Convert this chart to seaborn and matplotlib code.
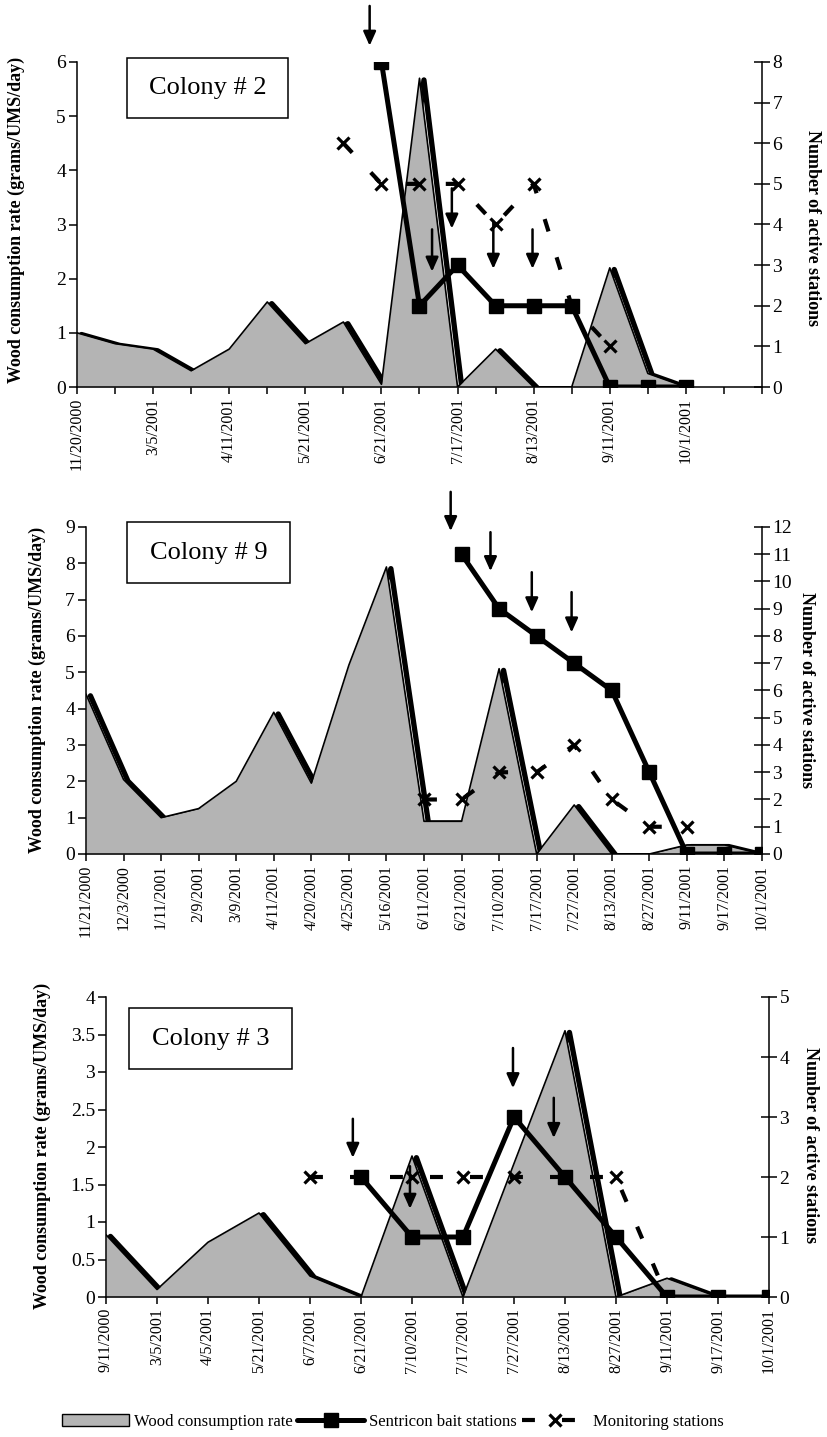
import numpy as np
import pandas as pd
import matplotlib
matplotlib.use('Agg')
import matplotlib.pyplot as plt
import seaborn as sns
from matplotlib.patches import Rectangle, Patch
from matplotlib.lines import Line2D
from matplotlib.transforms import offset_copy

nan = np.nan

# ---------------- Data ----------------
# Colony 2 (19 category slots, labels on every other slot)
c2_dates = ['11/20/2000', '', '3/5/2001', '', '4/11/2001', '', '5/21/2001', '',
            '6/21/2001', '', '7/17/2001', '', '8/13/2001', '', '9/11/2001', '',
            '10/1/2001', '', '']
c2_wood = [1.0, 0.8, 0.7, 0.3, 0.7, 1.57, 0.8, 1.2, 0.05, 5.7, 0.0, 0.7, 0.0,
           0.0, 2.2, 0.25, 0.0, nan, nan]
c2_bait = [nan, nan, nan, nan, nan, nan, nan, nan, 8, 2, 3, 2, 2, 2, 0, 0, 0,
           nan, nan]
c2_mon = [nan, nan, nan, nan, nan, nan, nan, 6, 5, 5, 5, 4, 5, 2, 1, nan, nan,
          nan, nan]
c2_arrows = [(7.69, 9.38, 8.40), (9.85, 4.89, 3.90), (9.33, 3.88, 2.84),
             (10.94, 4.07, 2.91), (11.97, 3.88, 2.91)]

# Colony 9
c9_dates = ['11/21/2000', '12/3/2000', '1/11/2001', '2/9/2001', '3/9/2001',
            '4/11/2001', '4/20/2001', '4/25/2001', '5/16/2001', '6/11/2001',
            '6/21/2001', '7/10/2001', '7/17/2001', '7/27/2001', '8/13/2001',
            '8/27/2001', '9/11/2001', '9/17/2001', '10/1/2001']
c9_wood = [4.4, 2.05, 1.0, 1.25, 2.0, 3.9, 1.95, 5.2, 7.9, 0.9, 0.9, 5.1, 0.0,
           1.35, 0.0, 0.0, 0.25, 0.25, 0.0]
c9_bait = [nan, nan, nan, nan, nan, nan, nan, nan, nan, nan, 11, 9, 8, 7, 6, 3,
           0, 0, 0]
c9_mon = [nan, nan, nan, nan, nan, nan, nan, nan, nan, 2, 2, 3, 3, 4, 2, 1, 1,
          nan, nan]
c9_arrows = [(9.71, 13.29, 11.85), (10.77, 11.81, 10.38), (11.87, 10.34, 8.87),
             (12.93, 9.61, 8.13)]

# Colony 3
c3_dates = ['9/11/2000', '3/5/2001', '4/5/2001', '5/21/2001', '6/7/2001',
            '6/21/2001', '7/10/2001', '7/17/2001', '7/27/2001', '8/13/2001',
            '8/27/2001', '9/11/2001', '9/17/2001', '10/1/2001']
c3_wood = [0.83, 0.1, 0.73, 1.12, 0.28, 0.0, 1.88, 0.0, 1.78, 3.55, 0.0, 0.25,
           0.0, 0.0]
c3_bait = [nan, nan, nan, nan, nan, 2, 1, 1, 3, 2, 1, 0, 0, 0]
c3_mon = [nan, nan, nan, nan, 2, 2, 2, 2, 2, 2, 2, 0, nan, nan]
c3_arrows = [(4.84, 2.97, 2.32), (5.96, 2.18, 1.47), (7.98, 4.15, 3.48),
             (8.78, 3.32, 2.65)]

left_label = 'Wood consumption rate (grams/UMS/day)'
right_label = 'Number of active stations'
legend_labels = ['Wood consumption rate', 'Sentricon bait stations',
                 'Monitoring stations']

# ---------------- Style ----------------
sns.set_theme(style='ticks')
plt.rcParams['font.family'] = ['Liberation Serif', 'DejaVu Serif']
plt.rcParams['axes.edgecolor'] = 'black'
plt.rcParams['axes.linewidth'] = 1.1
plt.rcParams['xtick.color'] = 'black'
plt.rcParams['ytick.color'] = 'black'
plt.rcParams['text.color'] = 'black'

W, H = 827, 1437
fig = plt.figure(figsize=(W / 100, H / 100), dpi=100)
GRAY = '#b4b4b4'


def fx(px):
    return px / W


def fy(py):
    return 1 - py / H


def rect(l, r, t, b):
    return [fx(l), fy(b), (r - l) / W, (b - t) / H]


def panel(box, dates, wood, bait, mon, lmax, lticks, lticklabels, rmax,
          arrows, title, tbox, llab_xy, rlab_xy):
    ax = fig.add_axes(rect(*box))
    x = np.arange(len(dates))
    df = pd.DataFrame({'x': x, 'wood': np.asarray(wood, float),
                       'bait': np.asarray(bait, float),
                       'mon': np.asarray(mon, float)})
    # area
    ax.fill_between(df['x'], 0, df['wood'], color=GRAY, lw=0, zorder=2)
    # shadow of outline
    sns.lineplot(data=df, x='x', y='wood', color='black', lw=3.8, ax=ax,
                 estimator=None, sort=False, zorder=1.5)
    ax.lines[-1].set_transform(offset_copy(ax.transData, fig=fig, x=3.2,
                                           y=-1.2, units='points'))
    sns.lineplot(data=df, x='x', y='wood', color='black', lw=1.2, ax=ax,
                 estimator=None, sort=False, zorder=3)
    ax.set_xlim(0, len(dates) - 1)
    ax.set_ylim(0, lmax)
    ax.set_yticks(lticks)
    ax.set_yticklabels(lticklabels)
    ax.set_xticks(x)
    ax.set_xticklabels(dates)
    ax.set_xlabel('')
    ax.set_ylabel('')
    ax.spines['top'].set_visible(False)
    ax.spines['right'].set_visible(False)
    ax.tick_params(axis='y', direction='out', length=6, width=1.1,
                   labelsize=14, pad=2, left=True)
    ax.tick_params(axis='x', direction='out', length=5, width=1.1,
                   labelsize=11.5, rotation=90, pad=3, bottom=True)

    ax2 = ax.twinx()
    sns.lineplot(data=df, x='x', y='bait', color='black', lw=3.6, marker='s',
                 markersize=10, markeredgecolor='black', markeredgewidth=1,
                 ax=ax2, estimator=None, sort=False)
    sns.lineplot(data=df, x='x', y='mon', color='black', lw=3.0, marker='x',
                 markersize=9, markeredgecolor='black', markeredgewidth=2.3,
                 linestyle=(0, (3.1, 6.5)), ax=ax2, estimator=None, sort=False)
    ax2.set_ylim(0, rmax)
    ax2.set_yticks(range(rmax + 1))
    ax2.set_ylabel('')
    ax2.set_xlim(0, len(dates) - 1)
    for s in ['top', 'left', 'bottom']:
        ax2.spines[s].set_visible(False)
    ax2.tick_params(axis='y', direction='inout', length=11, width=1.1,
                    labelsize=14, pad=2, right=True)

    for (xa, y0, y1) in arrows:
        ax2.annotate('', xy=(xa, y1), xytext=(xa, y0),
                     arrowprops=dict(arrowstyle='-|>,head_length=0.85,head_width=0.38',
                                     lw=1.8, color='black', shrinkA=0, shrinkB=0,
                                     mutation_scale=10, clip_on=False),
                     annotation_clip=False)

    # colony label box
    bx, by, bw, bh = tbox
    ax.add_patch(Rectangle((bx, by), bw, bh, transform=ax.transAxes,
                           facecolor='white', edgecolor='black', lw=1.1,
                           clip_on=False, zorder=6))
    ax.text(bx + bw / 2, by + bh / 2, title, transform=ax.transAxes,
            ha='center', va='center', fontsize=19, zorder=7)

    fig.text(fx(llab_xy[0]), fy(llab_xy[1]), left_label, rotation=90,
             ha='center', va='center', fontsize=13, fontweight='bold')
    fig.text(fx(rlab_xy[0]), fy(rlab_xy[1]), right_label, rotation=270,
             ha='center', va='center', fontsize=13, fontweight='bold')
    return ax, ax2


panel((77, 762, 62, 387), c2_dates, c2_wood, c2_bait, c2_mon, 6, range(7),
      [str(i) for i in range(7)], 8, c2_arrows, 'Colony # 2',
      (0.073, 0.828, 0.235, 0.185), (16, 220), (813, 228))

panel((86, 762, 527, 854), c9_dates, c9_wood, c9_bait, c9_mon, 9, range(10),
      [str(i) for i in range(10)], 12, c9_arrows, 'Colony # 9',
      (0.0607, 0.828, 0.241, 0.187), (37, 690), (807, 690))

l3 = [0, 0.5, 1, 1.5, 2, 2.5, 3, 3.5, 4]
panel((106, 769, 997, 1297), c3_dates, c3_wood, c3_bait, c3_mon, 4, l3,
      ['0', '0.5', '1', '1.5', '2', '2.5', '3', '3.5', '4'], 5, c3_arrows,
      'Colony # 3', (0.0347, 0.76, 0.246, 0.203), (42, 1146), (810, 1145))

handles = [Patch(facecolor=GRAY, edgecolor='black', lw=1),
           Line2D([], [], color='black', lw=3.6, marker='s', markersize=10),
           Line2D([], [], color='black', lw=3.0, marker='x', markersize=9,
                  markeredgewidth=2.3, linestyle=(0, (3.1, 6.5)))]
fig.legend(handles, legend_labels, loc='center left',
           bbox_to_anchor=(fx(62), fy(1422)), ncol=3, frameon=False,
           fontsize=12, handlelength=4.0, handletextpad=0.3,
           columnspacing=0.3, borderpad=0, borderaxespad=0)

fig.savefig('out.png', dpi=100)
